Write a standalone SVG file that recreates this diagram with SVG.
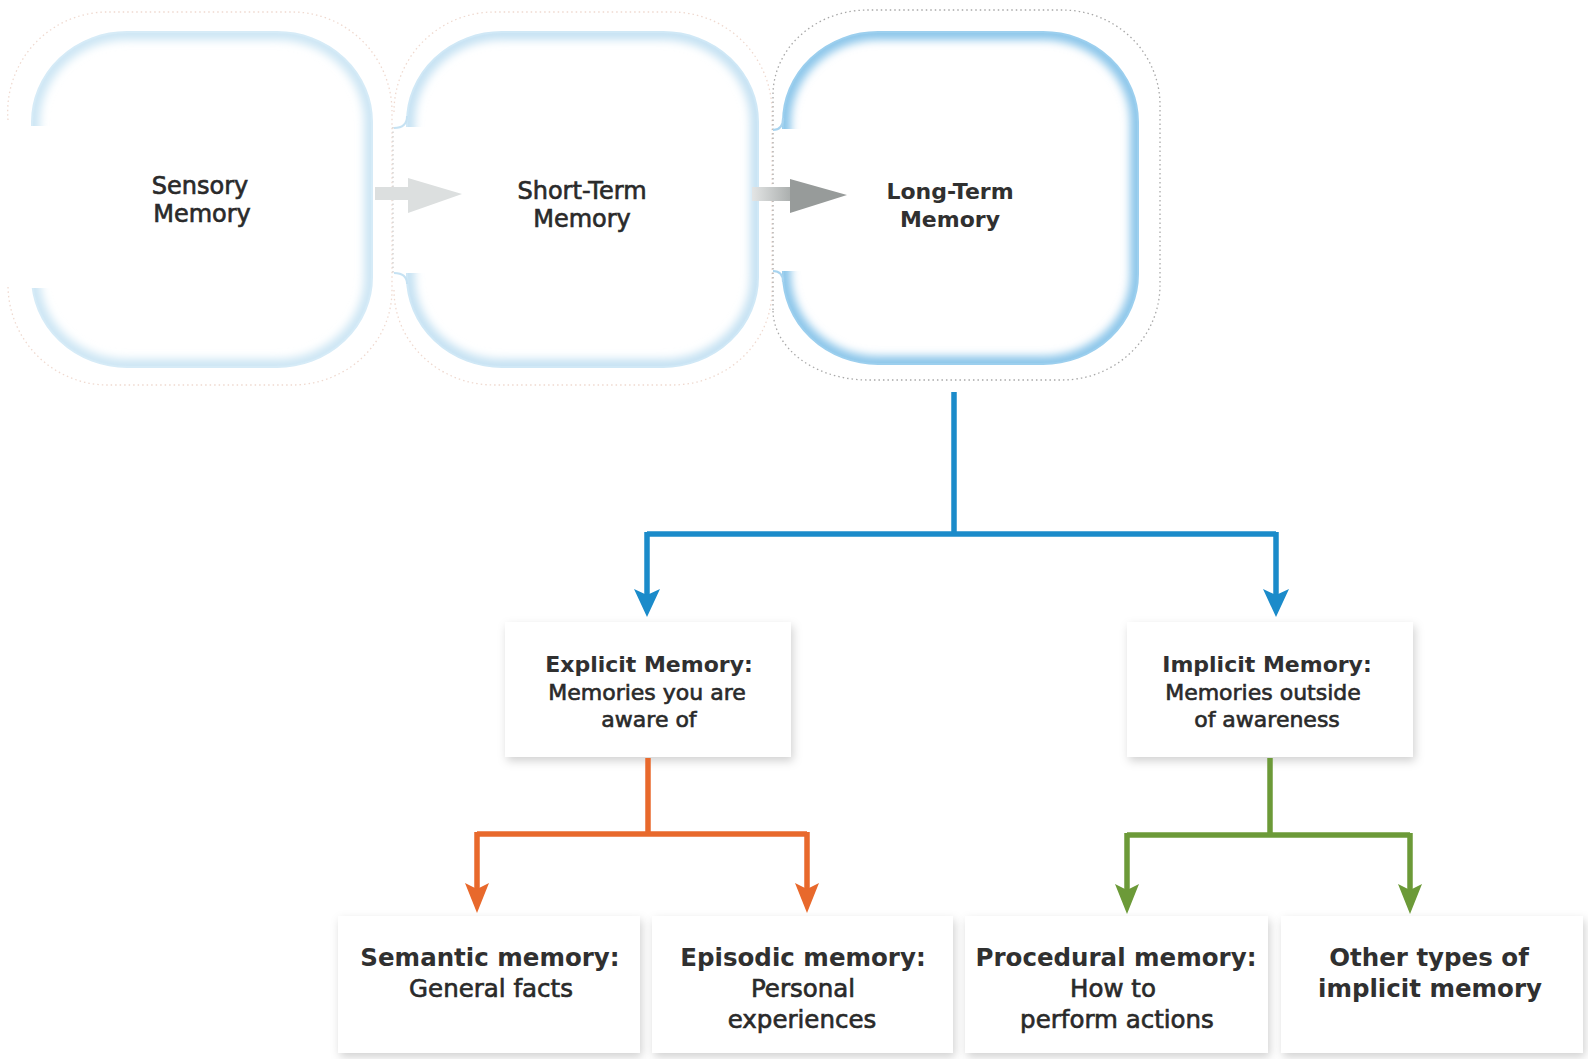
<svg xmlns="http://www.w3.org/2000/svg" width="1588" height="1059" viewBox="0 0 1588 1059">
  <style>
    .lbl { font-family: "DejaVu Sans", "Liberation Sans", sans-serif; fill: #2a2a2a; text-anchor: middle; }
    .b { font-weight: bold; fill: #303030; }
    .r { font-weight: normal; stroke: #2a2a2a; stroke-width: 0.65; }
    .t { font-size: 24px; }
    .m { font-size: 22px; }
    .s { font-size: 24.5px; }
    .box { fill: #ffffff; filter: url(#shadow); }
    .glow { fill: none; stroke-width: 16; filter: url(#blur); }
    .edge { fill: none; stroke-width: 2; }
    .dots { fill: none; stroke-width: 1.3; stroke-dasharray: 1.5 3; }
    .blue { stroke: #1b8bca; }
    .orange { stroke: #e8692c; }
    .green { stroke: #6c9a38; }
    .conn { fill: none; stroke-width: 5.5; }
  </style>
  <defs>
    <filter id="shadow" x="-20%" y="-20%" width="140%" height="150%">
      <feDropShadow dx="2" dy="4" stdDeviation="5" flood-color="#000" flood-opacity="0.18"/>
    </filter>
    <filter id="blur" x="-10%" y="-10%" width="120%" height="120%">
      <feGaussianBlur stdDeviation="4"/>
    </filter>
    <clipPath id="cSens"><path d="M127,32 H277 A95,90 0 0 1 372,122 V277 A95,90 0 0 1 277,367 H127 A95,90 0 0 1 32,277 V122 A95,90 0 0 1 127,32 Z"/></clipPath>
    <clipPath id="cShort"><path d="M502,32 H663 A95,90 0 0 1 758,122 V277 A95,90 0 0 1 663,367 H502 A95,90 0 0 1 407,277 V122 A95,90 0 0 1 502,32 Z"/></clipPath>
    <clipPath id="cLong"><path d="M878,32 H1043 A95,90 0 0 1 1138,122 V274 A95,90 0 0 1 1043,364 H878 A95,90 0 0 1 783,274 V122 A95,90 0 0 1 878,32 Z"/></clipPath>
    <mask id="mSens"><rect x="0" y="0" width="1588" height="1059" fill="#fff"/><rect x="0" y="126" width="70" height="162" fill="#000"/></mask>
    <mask id="mShort"><rect x="0" y="0" width="1588" height="1059" fill="#fff"/><rect x="380" y="127" width="60" height="146" fill="#000"/></mask>
    <mask id="mLong"><rect x="0" y="0" width="1588" height="1059" fill="#fff"/><rect x="760" y="129" width="60" height="142" fill="#000"/></mask>
    <marker id="ahBlue" viewBox="0 0 28 28" markerWidth="28" markerHeight="28" refX="11" refY="14" orient="auto" markerUnits="userSpaceOnUse">
      <path d="M0,1 L28,14 L0,27 L6,14 Z" fill="#1b8bca"/>
    </marker>
    <marker id="ahOrange" viewBox="0 0 30 26" markerWidth="30" markerHeight="26" refX="13" refY="13" orient="auto" markerUnits="userSpaceOnUse">
      <path d="M0,1 L30,13 L0,25 L6,13 Z" fill="#e8692c"/>
    </marker>
    <marker id="ahGreen" viewBox="0 0 30 26" markerWidth="30" markerHeight="26" refX="13" refY="13" orient="auto" markerUnits="userSpaceOnUse">
      <path d="M0,1 L30,13 L0,25 L6,13 Z" fill="#6c9a38"/>
    </marker>
    <linearGradient id="shaftGrad" x1="0" x2="1" y1="0" y2="0">
      <stop offset="0" stop-color="#e3e5e5"/>
      <stop offset="1" stop-color="#a9adac"/>
    </linearGradient>
  </defs>

  <rect x="0" y="0" width="1588" height="1059" fill="#ffffff"/>

  <!-- faint outer dotted outlines -->
  <g id="outlines">
    <path class="dots" stroke="#efd9cf" d="M8,120 A100,100 0 0 1 110,12 H290 A100,100 0 0 1 392,112 V290 A100,95 0 0 1 290,385 H110 A100,100 0 0 1 8,285"/>
    <path class="dots" stroke="#efd9cf" d="M394,112 A100,100 0 0 1 494,12 H672 A100,100 0 0 1 772,112 V290 A100,95 0 0 1 672,385 H494 A100,95 0 0 1 394,290"/>
    <path class="dots" stroke="#cfcfcf" d="M393,127 V275"/>
    <path class="dots" stroke="#a8a8a8" d="M773,310 V95 A95,85 0 0 1 868,10 H1062 A98,95 0 0 1 1160,105 V285 A98,95 0 0 1 1062,380 H868 A95,70 0 0 1 773,310 Z"/>
  </g>

  <!-- Sensory Memory -->
  <g id="sensory">
    <g mask="url(#mSens)">
      <g clip-path="url(#cSens)">
        <path class="glow" stroke="#cde6f4" d="M127,32 H277 A95,90 0 0 1 372,122 V277 A95,90 0 0 1 277,367 H127 A95,90 0 0 1 32,277 V122 A95,90 0 0 1 127,32 Z"/>
      </g>
      <path class="edge" stroke="#d6ebf7" d="M127,32 H277 A95,90 0 0 1 372,122 V277 A95,90 0 0 1 277,367 H127 A95,90 0 0 1 32,277 V122 A95,90 0 0 1 127,32 Z"/>
    </g>
    <text class="lbl r t" x="200" y="194">Sensory</text>
    <text class="lbl r t" x="202" y="222">Memory</text>
  </g>

  <!-- Short-Term Memory -->
  <g id="short-term">
    <g mask="url(#mShort)">
      <g clip-path="url(#cShort)">
        <path class="glow" stroke="#c6e2f3" d="M502,32 H663 A95,90 0 0 1 758,122 V277 A95,90 0 0 1 663,367 H502 A95,90 0 0 1 407,277 V122 A95,90 0 0 1 502,32 Z"/>
      </g>
      <path class="edge" stroke="#d0e8f6" d="M502,32 H663 A95,90 0 0 1 758,122 V277 A95,90 0 0 1 663,367 H502 A95,90 0 0 1 407,277 V122 A95,90 0 0 1 502,32 Z"/>
    </g>
    <path class="edge" stroke="#c6e2f3" stroke-width="4" d="M407,116 Q407,128 394,128 M407,284 Q407,273 394,273"/>
    <text class="lbl r t" x="582" y="199">Short-Term</text>
    <text class="lbl r t" x="582" y="227">Memory</text>
  </g>

  <!-- Long-Term Memory -->
  <g id="long-term">
    <g mask="url(#mLong)">
      <g clip-path="url(#cLong)">
        <path class="glow" stroke="#8cc6ea" stroke-width="20" d="M878,32 H1043 A95,90 0 0 1 1138,122 V274 A95,90 0 0 1 1043,364 H878 A95,90 0 0 1 783,274 V122 A95,90 0 0 1 878,32 Z"/>
      </g>
      <path class="edge" stroke="#9ccfee" stroke-width="3" d="M878,32 H1043 A95,90 0 0 1 1138,122 V274 A95,90 0 0 1 1043,364 H878 A95,90 0 0 1 783,274 V122 A95,90 0 0 1 878,32 Z"/>
    </g>
    <path class="edge" stroke="#a9d4ef" stroke-width="4" d="M783,118 Q783,130 773,130 M783,282 Q783,271 773,271"/>
    <text class="lbl b m" x="950" y="199">Long-Term</text>
    <text class="lbl b m" x="950" y="227">Memory</text>
  </g>

  <!-- Explicit / Implicit -->
  <g id="explicit">
    <rect class="box" x="505" y="622" width="286" height="135"/>
    <text class="lbl b m" x="649" y="672">Explicit Memory:</text>
    <text class="lbl r m" x="647" y="700">Memories you are</text>
    <text class="lbl r m" x="649" y="727">aware of</text>
  </g>
  <g id="implicit">
    <rect class="box" x="1127" y="622" width="286" height="135"/>
    <text class="lbl b m" x="1267" y="672">Implicit Memory:</text>
    <text class="lbl r m" x="1263" y="700">Memories outside</text>
    <text class="lbl r m" x="1267" y="727">of awareness</text>
  </g>

  <!-- bottom row -->
  <g id="semantic">
    <rect class="box" x="338" y="916" width="302" height="137"/>
    <text class="lbl b s" x="490" y="966">Semantic memory:</text>
    <text class="lbl r s" x="491" y="997">General facts</text>
  </g>
  <g id="episodic">
    <rect class="box" x="652" y="916" width="301" height="137"/>
    <text class="lbl b s" x="803" y="966">Episodic memory:</text>
    <text class="lbl r s" x="803" y="997">Personal</text>
    <text class="lbl r s" x="802" y="1028">experiences</text>
  </g>
  <g id="procedural">
    <rect class="box" x="965" y="916" width="303" height="137"/>
    <text class="lbl b s" x="1116" y="966">Procedural memory:</text>
    <text class="lbl r s" x="1113" y="997">How to</text>
    <text class="lbl r s" x="1117" y="1028">perform actions</text>
  </g>
  <g id="other">
    <rect class="box" x="1281" y="916" width="302" height="137"/>
    <text class="lbl b s" x="1429" y="966">Other types of</text>
    <text class="lbl b s" x="1430" y="997">implicit memory</text>
  </g>

  <!-- connectors -->
  <g id="connectors">
    <polygon points="375,187 408,187 408,178 462,194 408,213 408,200 375,200" fill="#dcdfdf"/>
    <rect x="752" y="187" width="40" height="14" fill="url(#shaftGrad)"/>
    <polygon points="790,179 847,195 790,213" fill="#979b9a"/>

    <path class="conn blue" d="M954,392 V534"/>
    <path class="conn blue" d="M647,534 H1276"/>
    <path class="conn blue" d="M647,532 V600" marker-end="url(#ahBlue)"/>
    <path class="conn blue" d="M1276,532 V600" marker-end="url(#ahBlue)"/>

    <path class="conn orange" d="M648,758 V834"/>
    <path class="conn orange" d="M477,834 H807"/>
    <path class="conn orange" d="M477,832 V896" marker-end="url(#ahOrange)"/>
    <path class="conn orange" d="M807,832 V896" marker-end="url(#ahOrange)"/>

    <path class="conn green" d="M1270,758 V835"/>
    <path class="conn green" d="M1127,835 H1410"/>
    <path class="conn green" d="M1127,833 V897" marker-end="url(#ahGreen)"/>
    <path class="conn green" d="M1410,833 V897" marker-end="url(#ahGreen)"/>
  </g>
</svg>
